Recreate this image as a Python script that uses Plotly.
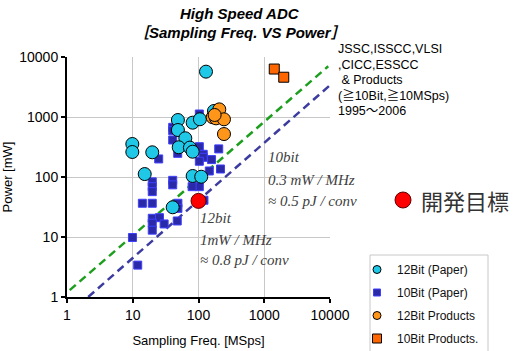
import plotly.graph_objects as go

# ---- data ----
cyan_x = [9.85, 9.85, 19.8, 15.2, 48.6, 48.6, 63, 50, 74, 81.5, 81.5, 105, 81.5, 110, 40.5, 130, 172]
cyan_y = [355, 261, 258, 112, 891, 607, 442, 313, 309, 264, 804, 917, 104, 101, 31.3, 5700, 1260]

blue_x = [103, 40.5, 40.5, 40.5, 48.3, 24.8, 103, 118, 118, 103, 158, 203, 216, 146, 80, 103, 80,
          40.5, 40.5, 19.8, 19.8, 19.8, 14, 19.8, 48.6, 48.6, 121, 19.8, 25.5, 19.8, 30, 19.8, 47.5,
          9.9, 11.9]
blue_y = [1122, 673, 591, 414, 248, 200, 320, 239, 213, 183, 195, 294, 136, 126, 100, 69, 69,
          88, 74, 83, 69, 57, 36.5, 36.5, 36.5, 30, 41, 20.5, 21, 17, 16.5, 13, 18.5,
          9.8, 3.4]

orange_x = [207, 164, 185, 244, 244, 176]
orange_y = [1340, 990, 950, 915, 520, 1080]

prod10_x = [1420, 1980]
prod10_y = [6300, 4600]

target_x = [100]
target_y = [40]

green_x = [1.1, 9400]
green_y = [1.3, 7000]
navy_x = [2.1, 16900]
navy_y = [1.0, 5600]

tick_vals = [1, 10, 100, 1000, 10000]
tick_text = ["1", "10", "100", "1000", "10000"]

legend_names = ["12Bit (Paper)", "10Bit (Paper)", "12Bit Products", "10Bit Products."]

SANS = "Liberation Sans, Arial, Noto Sans CJK JP"
SERIF = "Liberation Serif, DejaVu Serif"

fig = go.Figure()

fig.add_trace(go.Scatter(x=green_x, y=green_y, mode="lines", showlegend=False,
                         line=dict(color="#1e9e1e", width=2.5, dash="8px,5px")))
fig.add_trace(go.Scatter(x=navy_x, y=navy_y, mode="lines", showlegend=False,
                         line=dict(color="#3c3ca0", width=2.5, dash="8px,5px")))

fig.add_trace(go.Scatter(x=blue_x, y=blue_y, mode="markers", showlegend=False,
                         marker=dict(symbol="square", size=8, color="#2a2aa8",
                                     line=dict(color="#3f3fff", width=1))))
fig.add_trace(go.Scatter(x=cyan_x, y=cyan_y, mode="markers", showlegend=False,
                         marker=dict(symbol="circle", size=13, color="#1ec8e6",
                                     line=dict(color="#000000", width=1))))
fig.add_trace(go.Scatter(x=orange_x, y=orange_y, mode="markers", showlegend=False,
                         marker=dict(symbol="circle", size=13, color="#ff961a",
                                     line=dict(color="#000000", width=1))))
fig.add_trace(go.Scatter(x=prod10_x, y=prod10_y, mode="markers", showlegend=False,
                         marker=dict(symbol="square", size=10, color="#ff6600",
                                     line=dict(color="#000000", width=1))))
fig.add_trace(go.Scatter(x=target_x, y=target_y, mode="markers", showlegend=False,
                         marker=dict(symbol="circle", size=15, color="#ff0000",
                                     line=dict(color="#600000", width=1))))

# legend entries (small symbols like the reference)
leg_styles = [
    dict(symbol="circle", size=8, color="#1ec8e6", line=dict(color="#000", width=1)),
    dict(symbol="square", size=7, color="#2a2aa8", line=dict(color="#3f3fff", width=1)),
    dict(symbol="circle", size=8, color="#ff961a", line=dict(color="#000", width=1)),
    dict(symbol="square", size=9, color="#ff6600", line=dict(color="#000", width=1)),
]
for i, (nm, st) in enumerate(zip(legend_names, leg_styles)):
    fig.add_trace(go.Scatter(x=[None], y=[None], mode="markers", name=nm, marker=st,
                             legendgroup=f"g{i}"))

W, H = 513, 351
L, R, T, B = 67, 183, 57, 54
pw, ph = W - L - R, H - T - B


def px(x):
    return (x - L) / pw


def py(y):
    return (H - B - y) / ph


axis_common = dict(type="log", range=[0, 4], tickvals=tick_vals, ticktext=tick_text,
                   showline=True, linecolor="#000", linewidth=2, ticks="outside",
                   ticklen=4, tickwidth=2, tickcolor="#000", showgrid=True,
                   gridcolor="#c8c8c8", gridwidth=1, zeroline=False, automargin=False,
                   tickfont=dict(family=SANS, size=14, color="#000"))

fig.update_layout(
    width=W, height=H, margin=dict(l=L, r=R, t=T, b=B, autoexpand=False),
    paper_bgcolor="white", plot_bgcolor="white",
    xaxis=dict(axis_common, title=dict(text="Sampling Freq. [MSps]", standoff=14,
                                       font=dict(family=SANS, size=13, color="#000"))),
    yaxis=dict(axis_common, title=dict(text="Power [mW]", standoff=4,
                                       font=dict(family=SANS, size=13, color="#000"))),
    showlegend=True,
    legend=dict(x=px(357), y=py(255), xanchor="left", yanchor="top",
                bgcolor="rgba(0,0,0,0)", borderwidth=0,
                font=dict(family=SANS, size=12, color="#111"),
                traceorder="grouped", tracegroupgap=4, itemwidth=30),
)

shapes = [
    # white boxes behind the two efficiency labels
    dict(type="rect", xref="paper", yref="paper", x0=px(266), x1=px(368), y0=py(212), y1=py(163),
         fillcolor="white", line=dict(width=0), layer="between"),
    dict(type="rect", xref="paper", yref="paper", x0=px(199), x1=px(298), y0=py(280), y1=py(207),
         fillcolor="white", line=dict(width=0), layer="between"),
    # legend border
    dict(type="rect", xref="paper", yref="paper", x0=px(370), x1=px(488), y0=py(352), y1=py(255),
         fillcolor="rgba(0,0,0,0)", line=dict(color="#c8c8c8", width=1), layer="above"),
    # target marker
    dict(type="circle", xref="paper", yref="paper", x0=px(395), x1=px(411), y0=py(208), y1=py(192),
         fillcolor="#ff0000", line=dict(color="#600000", width=1)),
]
fig.update_layout(shapes=shapes)

ann = []
ann.append(dict(text="<b><i>High Speed ADC</i></b>", x=px(240), y=py(14), xref="paper", yref="paper",
                xanchor="center", yanchor="middle", showarrow=False,
                font=dict(family=SANS, size=15, color="#000")))
ann.append(dict(text="<b><i>［Sampling Freq. VS Power］</i></b>", x=px(240), y=py(33), xref="paper",
                yref="paper", xanchor="center", yanchor="middle", showarrow=False,
                font=dict(family="Liberation Sans, Noto Sans CJK JP", size=15, color="#000")))

src_lines = ["JSSC,ISSCC,VLSI", ",CICC,ESSCC", " & Products", "(≧10Bit,≧10MSps)", "1995～2006"]
for i, s in enumerate(src_lines):
    ann.append(dict(text=s, x=px(336), y=py(49 + 15.5 * i), xref="paper", yref="paper",
                    xanchor="left", yanchor="middle", showarrow=False,
                    font=dict(family="Liberation Sans, Noto Sans CJK JP", size=12.5, color="#000")))

for s, yy in zip(["10bit", "0.3 mW / MHz", "≈ 0.5 pJ / conv"], [157, 180, 201]):
    ann.append(dict(text=f"<i>{s}</i>", x=px(266), y=py(yy), xref="paper", yref="paper",
                    xanchor="left", yanchor="middle", showarrow=False,
                    font=dict(family=SERIF, size=15, color="#404040")))
for s, yy in zip(["12bit", "1mW / MHz", "≈ 0.8 pJ / conv"], [218, 240, 260]):
    ann.append(dict(text=f"<i>{s}</i>", x=px(198), y=py(yy), xref="paper", yref="paper",
                    xanchor="left", yanchor="middle", showarrow=False,
                    font=dict(family=SERIF, size=15, color="#404040")))

ann.append(dict(text="開発目標", x=px(419), y=py(200), xref="paper", yref="paper",
                xanchor="left", yanchor="middle", showarrow=False,
                font=dict(family="Noto Sans CJK JP", size=22, color="#333")))

fig.update_layout(annotations=ann)

fig.write_html("out.html", config={"displayModeBar": False},
               post_script="document.body.style.margin='0';")
